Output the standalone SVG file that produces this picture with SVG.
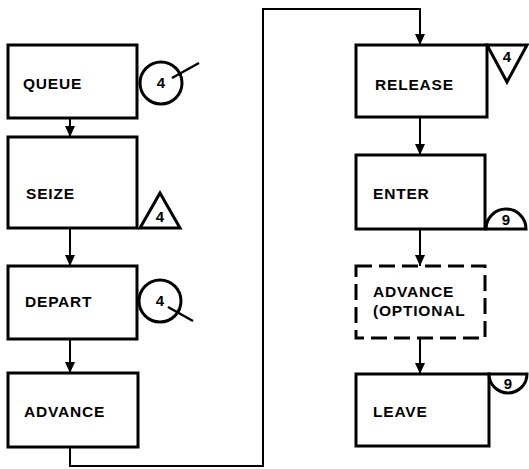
<svg xmlns="http://www.w3.org/2000/svg" width="529" height="469" viewBox="0 0 529 469">
  <style>
    .blk { fill: #fff; stroke: #000; stroke-width: 3; }
    .dash { fill: #fff; stroke: #000; stroke-width: 3; stroke-dasharray: 16 7; }
    .lbl { font-family: "Liberation Sans", Arial, sans-serif; font-weight: bold; font-size: 15.5px; letter-spacing: 0.8px; fill: #000; }
    .num { font-family: "Liberation Sans", Arial, sans-serif; font-weight: bold; font-size: 15px; fill: #000; text-anchor: middle; }
    .sym { fill: #fff; stroke: #000; stroke-width: 3; }
    .tick { stroke: #000; stroke-width: 2.5; fill: none; }
    .flow { fill: none; stroke: #000; stroke-width: 2; }
  </style>
  <defs>
    <marker id="arrow" markerUnits="userSpaceOnUse" markerWidth="12" markerHeight="12" viewBox="0 0 12 12" refX="11" refY="6" orient="auto">
      <path d="M0,1 L11,6 L0,11 Z" fill="#000"/>
    </marker>
  </defs>

  <g id="connectors">
    <line class="flow" x1="70" y1="118" x2="70" y2="137" marker-end="url(#arrow)"/>
    <line class="flow" x1="70" y1="228" x2="70" y2="266" marker-end="url(#arrow)"/>
    <line class="flow" x1="70" y1="339" x2="70" y2="373" marker-end="url(#arrow)"/>
    <polyline class="flow" points="70,447 70,466 263,466 263,9 420,9 420,45" marker-end="url(#arrow)"/>
    <line class="flow" x1="420" y1="117" x2="420" y2="155" marker-end="url(#arrow)"/>
    <line class="flow" x1="420" y1="229" x2="420" y2="266" marker-end="url(#arrow)"/>
    <line class="flow" x1="420" y1="338" x2="420" y2="374" marker-end="url(#arrow)"/>
  </g>

  <g id="queue">
    <rect class="blk" x="8" y="45" width="129" height="73"/>
    <text class="lbl" x="23" y="89">QUEUE</text>
    <circle class="sym" cx="161" cy="83" r="21"/>
    <text class="num" x="161" y="88">4</text>
    <line class="tick" x1="172" y1="78" x2="199" y2="63"/>
  </g>

  <g id="seize">
    <rect class="blk" x="8" y="137" width="129" height="91"/>
    <text class="lbl" x="26" y="199">SEIZE</text>
    <polygon class="sym" points="160,193 140,228 180,228"/>
    <text class="num" x="160" y="222">4</text>
  </g>

  <g id="depart">
    <rect class="blk" x="8" y="266" width="129" height="73"/>
    <text class="lbl" x="25" y="307">DEPART</text>
    <circle class="sym" cx="160" cy="301" r="21"/>
    <text class="num" x="160" y="306">4</text>
    <line class="tick" x1="168" y1="307" x2="193" y2="321"/>
  </g>

  <g id="advance">
    <rect class="blk" x="8" y="373" width="130" height="74"/>
    <text class="lbl" x="24" y="417">ADVANCE</text>
  </g>

  <g id="release">
    <rect class="blk" x="356" y="45" width="131" height="72"/>
    <text class="lbl" x="375" y="90">RELEASE</text>
    <polygon class="sym" points="487,45 527,45 507,82"/>
    <text class="num" x="507" y="62">4</text>
  </g>

  <g id="enter">
    <rect class="blk" x="356" y="155" width="129" height="74"/>
    <text class="lbl" x="373" y="199">ENTER</text>
    <path class="sym" d="M486,229 A20,20 0 0 1 526,229 Z"/>
    <text class="num" x="506" y="225">9</text>
  </g>

  <g id="advance-optional">
    <rect class="dash" x="356" y="266" width="129" height="72"/>
    <text class="lbl" x="373" y="297">ADVANCE</text>
    <text class="lbl" x="373" y="316">(OPTIONAL</text>
  </g>

  <g id="leave">
    <rect class="blk" x="356" y="374" width="133" height="72"/>
    <text class="lbl" x="373" y="417">LEAVE</text>
    <path class="sym" d="M489,374 A19,19 0 0 0 527,374 Z"/>
    <text class="num" x="508" y="389">9</text>
  </g>
</svg>
